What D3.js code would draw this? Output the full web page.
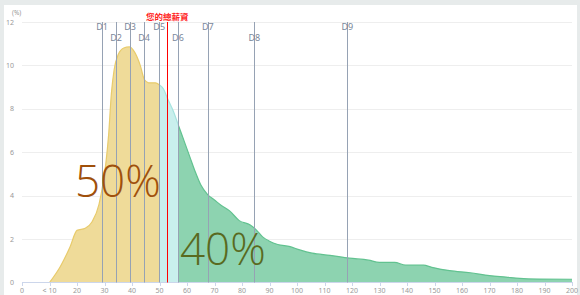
<!DOCTYPE html>
<html>
<head>
<meta charset="utf-8">
<script src="https://cdn.jsdelivr.net/npm/d3@7.9.0/dist/d3.min.js"></script>
<style>
  html, body { margin: 0; padding: 0; background: #e7ebeb; }
  svg { display: block; font-family: "Noto Sans", "DejaVu Sans", sans-serif; }
</style>
</head>
<body>
<svg id="chart" width="580" height="295"></svg>
<script>
// salary (10k) vs share of people (%)
const salary = [10, 14, 17.5, 20, 23, 25.5, 28, 29.5, 30.5, 31.5, 32.5, 33.5, 35, 37, 39, 41, 43, 44.5, 46, 48.5,
  50, 51.5, 53, 55, 57, 59, 61, 63, 65, 67.5, 70, 72.5, 75.5, 79, 83, 85, 87.5, 90, 93, 97.5,
  101, 105.5, 112, 119, 126, 130, 135.5, 139.5, 146, 149, 155.5, 163, 170, 176, 181, 188, 200];
const share = [0, 0.75, 1.65, 2.4, 2.5, 2.8, 3.6, 4.6, 5.5, 6.8, 8.7, 9.8, 10.5, 10.8, 10.85, 10.6, 10.0, 9.35, 9.2, 9.2,
  9.1, 8.9, 8.45, 7.9, 7.2, 6.5, 5.8, 5.1, 4.5, 4.05, 3.8, 3.55, 3.3, 2.85, 2.65, 2.45, 2.1, 1.9, 1.75, 1.65,
  1.5, 1.35, 1.25, 1.12, 1.03, 0.93, 0.93, 0.8, 0.8, 0.7, 0.55, 0.45, 0.32, 0.25, 0.19, 0.16, 0.15];

const decileNames = ['D1', 'D2', 'D3', 'D4', 'D5', 'D6', 'D7', 'D8', 'D9'];
const decileValues = [29.1, 34.2, 39.3, 44.4, 49.9, 56.7, 67.6, 84.5, 118.3];
const userSalary = 52.8;
const userLabel = '您的總薪資';

const xTicks = [0, 10, 20, 30, 40, 50, 60, 70, 80, 90, 100, 110, 120, 130, 140, 150, 160, 170, 180, 190, 200];
const yTicks = [0, 2, 4, 6, 8, 10, 12];
const bigLabels = ['50%', '40%'];

const data = salary.map((s, i) => ({ x: s, y: share[i] }));

const svg = d3.select('#chart');
const x = d3.scaleLinear().domain([0, 200]).range([22, 572]);
const y = d3.scaleLinear().domain([0, 12]).range([282.5, 22]);

// white panel
svg.append('rect').attr('x', 4).attr('y', 5).attr('width', 573).attr('height', 290).attr('fill', '#fff');

// grid
svg.append('g')
  .selectAll('line')
  .data(yTicks.slice(1))
  .join('line')
  .attr('x1', x(0)).attr('x2', x(200))
  .attr('y1', d => Math.round(y(d)) + 0.5).attr('y2', d => Math.round(y(d)) + 0.5)
  .attr('stroke', '#eeeeee');

// y labels
svg.append('g')
  .selectAll('text')
  .data(yTicks)
  .join('text')
  .attr('x', 14).attr('y', d => y(d) + 2.5)
  .attr('text-anchor', 'end')
  .attr('font-size', 7).attr('fill', '#999')
  .text(d => d);
svg.append('text').attr('x', 12).attr('y', 15).attr('font-size', 6.5).attr('fill', '#999').text('(%)');

// areas split by deciles
const area = d3.area()
  .x(d => x(d.x))
  .y0(y(0))
  .y1(d => y(d.y))
  .curve(d3.curveMonotoneX);
const line = d3.line().x(d => x(d.x)).y(d => y(d.y)).curve(d3.curveMonotoneX);

const bands = [
  { id: 'c1', from: 0, to: decileValues[4], fill: '#efdb99', stroke: '#e8cb6c' },
  { id: 'c2', from: decileValues[4], to: decileValues[5], fill: '#c9efed', stroke: '#a6e3df' },
  { id: 'c3', from: decileValues[5], to: 200, fill: '#8dd3b0', stroke: '#62c290' }
];
const defs = svg.append('defs');
bands.forEach(b => {
  defs.append('clipPath').attr('id', b.id)
    .append('rect')
    .attr('x', x(b.from)).attr('y', 0)
    .attr('width', x(b.to) - x(b.from)).attr('height', 295);
  const g = svg.append('g').attr('clip-path', `url(#${b.id})`);
  g.append('path').datum(data).attr('d', area).attr('fill', b.fill);
  g.append('path').datum(data).attr('d', line).attr('fill', 'none').attr('stroke', b.stroke).attr('stroke-width', 1.2);
});

// x axis
svg.append('line')
  .attr('x1', x(0)).attr('x2', x(200) + 1)
  .attr('y1', 282.5).attr('y2', 282.5)
  .attr('stroke', '#ccd6eb');
const xg = svg.append('g');
xg.selectAll('line')
  .data(xTicks)
  .join('line')
  .attr('x1', d => Math.round(x(d)) + 0.5).attr('x2', d => Math.round(x(d)) + 0.5)
  .attr('y1', 282.5).attr('y2', 286)
  .attr('stroke', '#ccd6eb');
xg.selectAll('text')
  .data(xTicks)
  .join('text')
  .attr('x', d => x(d)).attr('y', 293)
  .attr('text-anchor', 'middle')
  .attr('font-size', 7).attr('fill', '#999')
  .text(d => d === 10 ? '< 10' : d);

// decile lines
const dg = svg.append('g');
dg.selectAll('line')
  .data(decileValues)
  .join('line')
  .attr('x1', d => Math.round(x(d)) + 0.5).attr('x2', d => Math.round(x(d)) + 0.5)
  .attr('y1', y(12)).attr('y2', y(0))
  .attr('stroke', '#96a2b4').attr('stroke-width', 1);
dg.selectAll('text')
  .data(decileValues)
  .join('text')
  .attr('x', d => x(d)).attr('y', (d, i) => i % 2 === 0 ? 30 : 40.5)
  .attr('text-anchor', 'middle')
  .attr('font-size', 9).attr('fill', '#7a879b')
  .text((d, i) => decileNames[i]);

// user salary
svg.append('line')
  .attr('x1', Math.round(x(userSalary)) + 0.5).attr('x2', Math.round(x(userSalary)) + 0.5)
  .attr('y1', y(12)).attr('y2', y(0))
  .attr('stroke', '#ff0000').attr('stroke-width', 1);
svg.append('text')
  .attr('x', x(userSalary)).attr('y', 19.5)
  .attr('text-anchor', 'middle')
  .attr('font-size', 8.5).attr('font-weight', 'bold').attr('fill', '#ff2222')
  .attr('font-family', '"Noto Sans CJK TC", sans-serif')
  .text(userLabel);

// big share labels
svg.append('text')
  .attr('x', 75).attr('y', 197)
  .attr('font-size', 44).attr('font-weight', 300).attr('fill', '#a0500b')
  .attr('font-family', '"Open Sans", sans-serif')
  .text(bigLabels[0]);
svg.append('text')
  .attr('x', 180).attr('y', 265)
  .attr('font-size', 44).attr('font-weight', 300).attr('fill', '#596a1f')
  .attr('font-family', '"Open Sans", sans-serif')
  .text(bigLabels[1]);
</script>
</body>
</html>
